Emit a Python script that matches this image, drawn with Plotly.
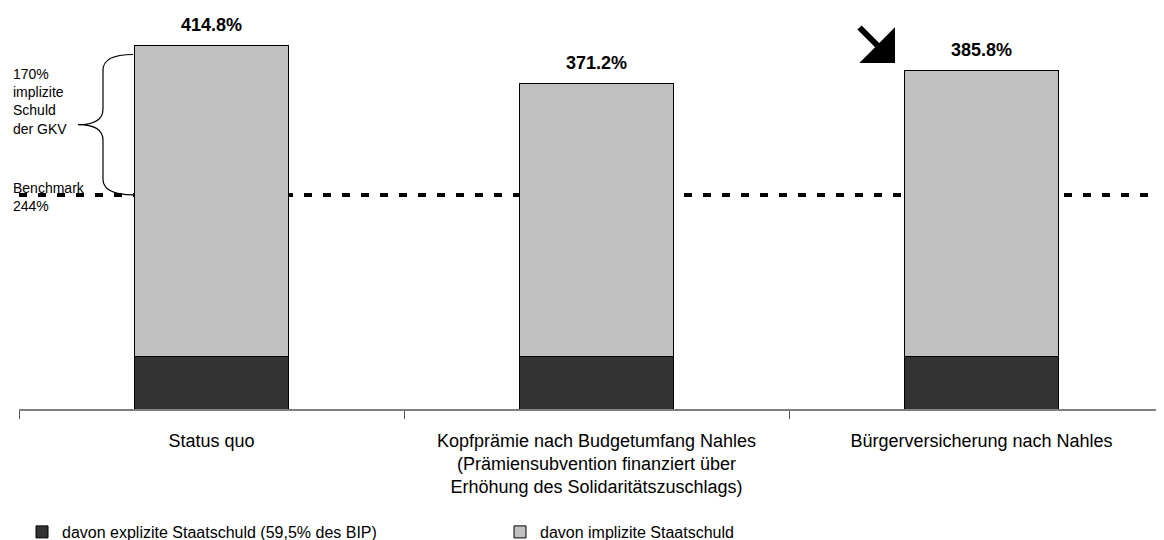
import plotly.graph_objects as go

categories = [
    "Status quo",
    "Kopfprämie nach Budgetumfang Nahles<br>(Prämiensubvention finanziert über<br>Erhöhung des Solidaritätszuschlags)",
    "Bürgerversicherung nach Nahles",
]
explicit_debt = [59.5, 59.5, 59.5]
implicit_debt = [355.3, 311.7, 326.3]
totals = [414.8, 371.2, 385.8]
benchmark = 244
gkv_implicit = 170

FONT = "Liberation Sans, Arial, sans-serif"

# page offset (browser body margin) is 8px; figure fits exactly in the window
OFF = 8
W, H = 1164 - OFF, 540 - OFF
ML, MR, MT, MB = 11, 0, 2, 131
plot_w = W - ML - MR
plot_h = H - MT - MB
cat_px = 385
x_max = -0.5 + plot_w / cat_px
y_max = plot_h / (364 / 414.8)

def px_x(p):
    return (p - OFF - ML) / plot_w

def px_y(p):
    return (H - MB - (p - OFF)) / plot_h

fig = go.Figure()
fig.add_trace(go.Bar(
    x=categories, y=explicit_debt, name="davon explizite Staatschuld (59,5% des BIP)",
    marker=dict(color="#333333", line=dict(color="black", width=1)), width=0.4,
))
fig.add_trace(go.Bar(
    x=categories, y=implicit_debt, name="davon implizite Staatschuld",
    marker=dict(color="#C0C0C0", line=dict(color="black", width=1)), width=0.4,
))

# benchmark dotted line
fig.add_shape(type="line", xref="paper", yref="y", x0=0, x1=1, y0=benchmark, y1=benchmark,
              line=dict(color="black", width=4, dash="8px,11px"), layer="below")

# curly brace
top = benchmark + gkv_implicit - 10
bot = benchmark
mid = (top + bot) / 2
d = 18
xr, xs, xt = px_x(133), px_x(103), px_x(78)
path = (f"M{xr},{top} Q{xs},{top} {xs},{top-d} L{xs},{mid+d} Q{xs},{mid} {xt},{mid} "
        f"Q{xs},{mid} {xs},{mid-d} L{xs},{bot+d} Q{xs},{bot} {xr},{bot}")
fig.add_shape(type="path", xref="paper", yref="y", path=path,
              line=dict(color="black", width=1.2))

# value labels
for c, t in zip(categories, totals):
    fig.add_annotation(x=c, y=t, text=f"<b>{t:.1f}%</b>", showarrow=False,
                       yanchor="middle", yshift=20,
                       font=dict(family=FONT, size=18, color="black"))

# left texts
left_lines = [("170%", 74), ("implizite", 92), ("Schuld", 110), ("der GKV", 129),
              ("Benchmark", 188), (f"{benchmark}%", 206)]
for txt, py in left_lines:
    fig.add_annotation(xref="paper", yref="paper", x=px_x(11), y=px_y(py), text=txt,
                       showarrow=False, xanchor="left", yanchor="middle",
                       font=dict(family=FONT, size=14, color="black"))

# arrow
fig.add_annotation(xref="paper", yref="paper", x=px_x(895), y=px_y(63), text="",
                   showarrow=True, arrowhead=1, arrowsize=1.4, arrowwidth=6,
                   arrowcolor="black", ax=-37, ay=-37)

fig.update_layout(
    width=W, height=H, barmode="stack", bargap=0.6,
    margin=dict(l=ML, r=MR, t=MT, b=MB, autoexpand=False),
    plot_bgcolor="white", paper_bgcolor="white",
    font=dict(family=FONT, size=18, color="black"),
    showlegend=True,
    legend=dict(orientation="h", x=px_x(22), y=px_y(532), xanchor="left", yanchor="middle",
                font=dict(family=FONT, size=16, color="black"),
                entrywidth=433, entrywidthmode="pixels", traceorder="normal",
                itemwidth=30),
    xaxis=dict(type="category", range=[-0.5, x_max], showline=True, linecolor="#808080",
               linewidth=2, ticks="outside", tickson="boundaries", ticklen=8,
               tickcolor="#555555", tickwidth=1, showgrid=False, zeroline=False,
               ticklabelstandoff=14, automargin=False,
               tickfont=dict(family=FONT, size=18, color="black")),
    yaxis=dict(range=[0, y_max], visible=False, showgrid=False, zeroline=False),
)

fig.write_html("out.html")
